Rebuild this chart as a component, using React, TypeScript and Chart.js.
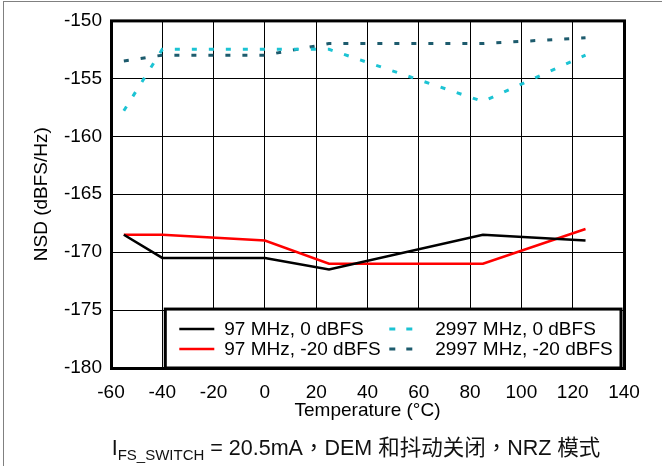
import React, { useEffect, useRef } from 'react';
import { Chart, registerables } from 'chart.js';

Chart.register(...registerables);

// ---- data ----
const temperatures = [-55, -40, 0, 25, 85, 125];
const nsd97MHz0dBFS = [-168.5, -170.5, -170.5, -171.5, -168.5, -169.0];
const nsd97MHzMinus20dBFS = [-168.5, -168.5, -169.0, -171.0, -171.0, -168.0];
const nsd2997MHz0dBFS = [-157.8, -152.5, -152.5, -152.5, -157.0, -153.0];
const nsd2997MHzMinus20dBFS = [-153.5, -153.0, -153.0, -152.0, -152.0, -151.5];

const seriesLabels = ['97 MHz, 0 dBFS', '97 MHz, -20 dBFS', '2997 MHz, 0 dBFS', '2997 MHz, -20 dBFS'];
const xMin = -60;
const xMax = 140;
const xStep = 20;
const yMin = -180;
const yMax = -150;
const yStep = 5;
const xTitle = 'Temperature (°C)';
const yTitle = 'NSD (dBFS/Hz)';
const legendLeftValue = -40;
const legendTopValue = -175;

const FONT = '"Liberation Sans", Arial, Helvetica, sans-serif';
const FONT_SIZE = 19;

const toPoints = (ys: number[]) => temperatures.map((t, i) => ({ x: t, y: ys[i] }));

const framePlugin = {
  id: 'frameAndLegend',
  afterDatasetsDraw(chart: any) {
    const { ctx, chartArea, scales } = chart;
    const { left, right, top, bottom } = chartArea;
    ctx.save();
    // legend box
    const lx0 = scales.x.getPixelForValue(legendLeftValue) + 3;
    const ly0 = scales.y.getPixelForValue(legendTopValue) - 1;
    const lx1 = right - 3;
    const ly1 = bottom;
    ctx.fillStyle = '#fff';
    ctx.fillRect(lx0, ly0, lx1 - lx0, ly1 - ly0);
    ctx.lineWidth = 3;
    ctx.strokeStyle = '#000';
    ctx.setLineDash([]);
    ctx.strokeRect(lx0, ly0, lx1 - lx0, ly1 - ly0);

    const ds = chart.data.datasets;
    const rowY = [ly0 + 20, ly0 + 40];
    const cols = [
      { sx: lx0 + 14, sw: 35, tx: lx0 + 59 },
      { sx: lx0 + 224, sw: 25, tx: lx0 + 270 },
    ];
    ctx.font = `${FONT_SIZE}px ${FONT}`;
    ctx.textBaseline = 'middle';
    ctx.textAlign = 'left';
    for (let i = 0; i < ds.length; i++) {
      const c = cols[Math.floor(i / 2)];
      const y = rowY[i % 2];
      ctx.beginPath();
      ctx.strokeStyle = ds[i].borderColor;
      ctx.lineWidth = ds[i].borderWidth;
      ctx.lineCap = 'butt';
      ctx.setLineDash(ds[i].borderDash ? [6, 11] : []);
      ctx.moveTo(c.sx, y);
      ctx.lineTo(c.sx + c.sw, y);
      ctx.stroke();
      ctx.setLineDash([]);
      ctx.fillStyle = '#000';
      ctx.fillText(ds[i].label, c.tx, y + 1);
    }

    // plot frame
    ctx.lineWidth = 3;
    ctx.strokeStyle = '#000';
    ctx.strokeRect(left + 0.5, top + 0.5, right - left, bottom - top);
    ctx.restore();
  },
};

export default function App() {
  const canvasRef = useRef<HTMLCanvasElement | null>(null);

  useEffect(() => {
    const canvas = canvasRef.current;
    if (!canvas) return;
    const chart = new Chart(canvas, {
      type: 'line',
      data: {
        datasets: [
          {
            label: seriesLabels[0],
            data: toPoints(nsd97MHz0dBFS),
            borderColor: '#000000',
            borderWidth: 2.5,
            pointRadius: 0,
            tension: 0,
            fill: false,
          },
          {
            label: seriesLabels[1],
            data: toPoints(nsd97MHzMinus20dBFS),
            borderColor: '#FF0000',
            borderWidth: 2.5,
            pointRadius: 0,
            tension: 0,
            fill: false,
          },
          {
            label: seriesLabels[2],
            data: toPoints(nsd2997MHz0dBFS),
            borderColor: '#1CC3D3',
            borderWidth: 3,
            borderDash: [5, 12],
            borderCapStyle: 'butt',
            pointRadius: 0,
            tension: 0,
            fill: false,
          },
          {
            label: seriesLabels[3],
            data: toPoints(nsd2997MHzMinus20dBFS),
            borderColor: '#1D5B6D',
            borderWidth: 3,
            borderDash: [5, 12],
            borderCapStyle: 'butt',
            pointRadius: 0,
            tension: 0,
            fill: false,
          },
        ],
      },
      options: {
        responsive: false,
        maintainAspectRatio: false,
        animation: false,
        events: [],
        layout: { padding: { left: 20, top: 20, right: 38, bottom: 43 } },
        plugins: {
          legend: { display: false },
          tooltip: { enabled: false },
          title: { display: false },
        },
        scales: {
          x: {
            type: 'linear',
            min: xMin,
            max: xMax,
            ticks: {
              stepSize: xStep,
              color: '#000',
              font: { family: FONT, size: FONT_SIZE },
              padding: 13,
              maxRotation: 0,
              autoSkip: false,
            },
            grid: { color: '#000', lineWidth: 1, drawTicks: false },
            border: { display: false },
            title: {
              display: true,
              text: xTitle,
              color: '#000',
              font: { family: FONT, size: FONT_SIZE },
              padding: { top: 0, bottom: 1 },
            },
            afterFit: (s: any) => {
              s.height = 55;
            },
          },
          y: {
            type: 'linear',
            min: yMin,
            max: yMax,
            ticks: {
              stepSize: yStep,
              color: '#000',
              font: { family: FONT, size: FONT_SIZE },
              padding: 9,
            },
            grid: { color: '#000', lineWidth: 1, drawTicks: false },
            border: { display: false },
            title: {
              display: true,
              text: yTitle,
              color: '#000',
              font: { family: FONT, size: FONT_SIZE },
              padding: { top: 10, bottom: 0 },
            },
            afterFit: (s: any) => {
              s.width = 91;
            },
          },
        },
      } as any,
      plugins: [framePlugin],
    });
    return () => chart.destroy();
  }, []);

  return (
    <div
      style={{
        position: 'fixed',
        left: 0,
        top: 0,
        width: 662,
        height: 466,
        background: '#fff',
        overflow: 'hidden',
      }}
    >
      <canvas ref={canvasRef} width={662} height={466} style={{ position: 'absolute', left: 0, top: 0 }} />
      <div
        style={{
          position: 'absolute',
          left: 3,
          top: 1,
          width: 700,
          height: 500,
          borderTop: '1px solid #808080',
          borderLeft: '1px solid #808080',
          pointerEvents: 'none',
        }}
      />
      <div
        style={{
          position: 'absolute',
          left: 0,
          width: 712,
          top: 435,
          textAlign: 'center',
          whiteSpace: 'nowrap',
          fontFamily: '"Liberation Sans", Arial, "Noto Sans CJK TC", sans-serif',
          fontSize: 21.5,
          lineHeight: '26px',
          color: '#111',
        }}
      >
        I<sub style={{ fontSize: 15, verticalAlign: '-5px', lineHeight: 0 }}>FS_SWITCH</sub> = 20.5mA，DEM 和抖动关闭，NRZ 模式
      </div>
    </div>
  );
}
